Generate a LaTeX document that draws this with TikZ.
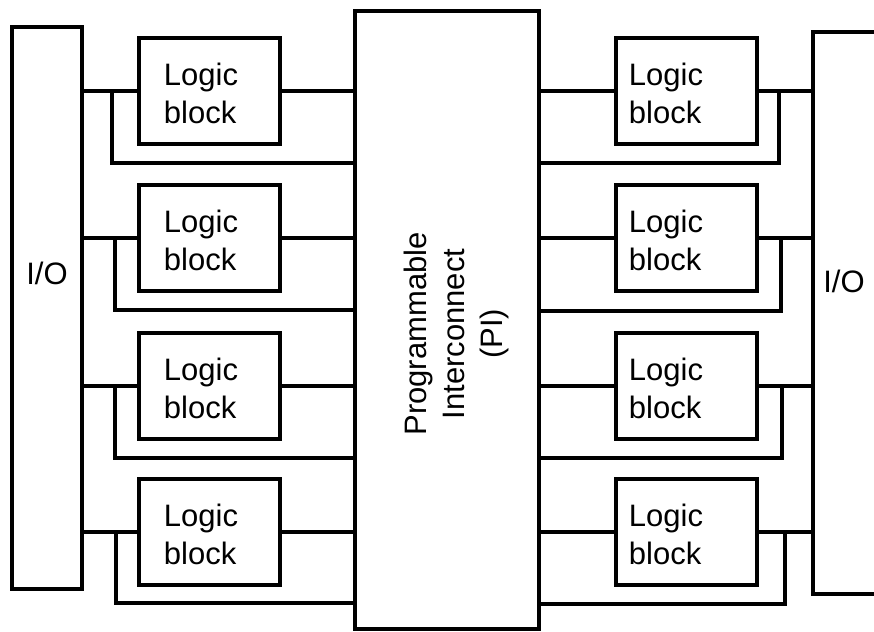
\documentclass[tikz,border=0pt]{standalone}
\usepackage{fontspec}
\setmainfont{Liberation Sans}
\begin{document}
\begin{tikzpicture}[x=1pt,y=-1pt,line width=4pt,line join=miter,
  box/.style={draw,rectangle,inner sep=0pt,outer sep=0pt},
  lblock/.style={box,minimum width=141pt,minimum height=106pt},
  iobox/.style={box,minimum width=70pt,minimum height=562pt},
  lbl/.style={font=\fontsize{31}{38}\selectfont,align=left,inner sep=0pt},
  wire/.style={draw,line width=4pt}]
\useasboundingbox (0,0) rectangle (874,631);
% main boxes
\node[iobox] (ioL) at (47,308) {};
\node[box,minimum width=184pt,minimum height=618pt] (pi) at (447,320) {};
\node[rectangle,inner sep=0pt,outer sep=0pt,minimum width=61pt,minimum height=562pt] (ioR) at (843.5,313) {};
\draw (ioR.north east) -- (ioR.north west) -- (ioR.south west) -- (ioR.south east);
% logic blocks
\foreach \i/\y in {1/91,2/238,3/386,4/532}{
  \node[lblock] (L\i) at (209.5,\y) {};
  \node[lblock] (R\i) at (686.5,\y) {};
  \node[lbl] (L\i t) at (201,\y+2) {Logic\\block};
  \node[lbl] (R\i t) at (666,\y+2) {Logic\\block};
}
% stub coordinates
\coordinate (sL1) at (112,163);
\coordinate (sL2) at (115,310);
\coordinate (sL3) at (115,458);
\coordinate (sL4) at (116,603);
\coordinate (sR1) at (779,163);
\coordinate (sR2) at (781,311);
\coordinate (sR3) at (782,458);
\coordinate (sR4) at (785,604);
% connections
\foreach \i in {1,2,3,4}{
  \draw[wire] (ioL.east |- L\i.west) -- (L\i.west);
  \draw[wire] (L\i.east) -- (pi.west |- L\i.east);
  \draw[wire] (L\i.west -| sL\i) |- (pi.west |- sL\i);
  \draw[wire] (pi.east |- R\i.west) -- (R\i.west);
  \draw[wire] (R\i.east) -- (ioR.west |- R\i.east);
  \draw[wire] (R\i.east -| sR\i) |- (pi.east |- sR\i);
}
% labels
\node[lbl] (ioLt) at (47,273) {I/O};
\node[lbl] (ioRt) at (844,281) {I/O};
\node[lbl,align=center,rotate=90] (pit) at (456,334) {Programmable\\Interconnect\\(PI)};
\end{tikzpicture}
\end{document}
